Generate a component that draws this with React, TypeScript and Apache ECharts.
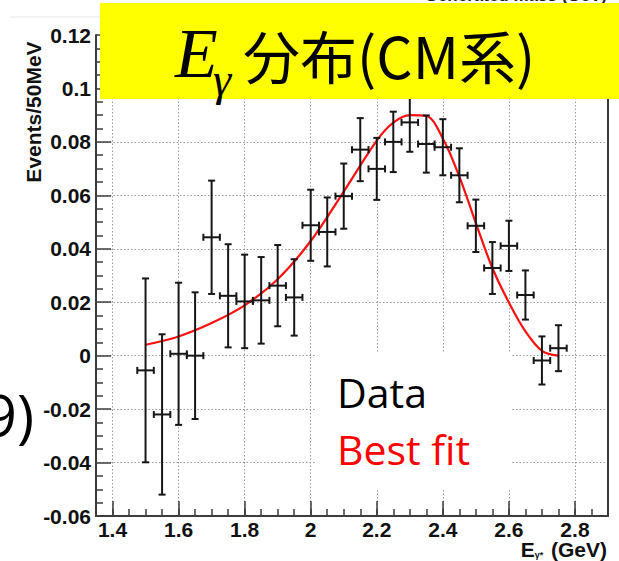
import React, { useEffect, useRef } from "react";
import * as echarts from "echarts";

// Measured photon energy spectrum in the CM frame (bin centres in GeV)
const binCenters = [1.5, 1.55, 1.6, 1.65, 1.7, 1.75, 1.8, 1.85, 1.9, 1.95, 2.0, 2.05, 2.1, 2.15, 2.2, 2.25, 2.3, 2.35, 2.4, 2.45, 2.5, 2.55, 2.6, 2.65, 2.7, 2.75];
const eventRates = [-0.0055, -0.022, 0.0007, 0.0, 0.0443, 0.0224, 0.0203, 0.0207, 0.0262, 0.0218, 0.0488, 0.0463, 0.0597, 0.0771, 0.0699, 0.08, 0.0873, 0.0792, 0.078, 0.0675, 0.0486, 0.0328, 0.0411, 0.0227, -0.0018, 0.0028];
const rateErrors = [0.0344, 0.03, 0.0266, 0.0237, 0.0212, 0.0193, 0.0175, 0.0162, 0.0152, 0.0143, 0.0133, 0.0129, 0.0122, 0.0118, 0.0116, 0.0113, 0.011, 0.0107, 0.0105, 0.0101, 0.0098, 0.0097, 0.0094, 0.0092, 0.009, 0.0086];
const HALF_BIN = 0.025;

// Best-fit curve
const fitX = [1.5, 1.6, 1.7, 1.8, 1.9, 2.0, 2.1, 2.2, 2.25, 2.3, 2.35, 2.4, 2.45, 2.5, 2.55, 2.6, 2.65, 2.7, 2.75];
const fitY = [0.0041, 0.0072, 0.0122, 0.0188, 0.0286, 0.0429, 0.0614, 0.0805, 0.0872, 0.09, 0.0897, 0.0813, 0.067, 0.0496, 0.0328, 0.0199, 0.0091, 0.0018, 0];

const xMajorTicks = [1.4, 1.6, 1.8, 2.0, 2.2, 2.4, 2.6, 2.8];
const X_MIN = 1.35;
const X_MAX = 2.9;
const Y_MIN = -0.06;
const Y_MAX = 0.12;

const AXIS_COLOR = "#3c3c3c";
const LABEL_FONT = "Liberation Sans";

export default function App() {
  const ref = useRef<HTMLDivElement>(null);

  useEffect(() => {
    if (!ref.current) return;
    const chart = echarts.init(ref.current, null, { renderer: "svg" });

    const points = binCenters.map((x, i) => [x, eventRates[i], rateErrors[i]]);
    const fitData = fitX.map((x, i) => [x, fitY[i]]);

    const gridLine = { show: true, lineStyle: { color: "#9a9a9a", width: 1, type: [1.5, 2] } };

    const option: any = {
      animation: false,
      backgroundColor: "#ffffff",
      grid: { left: 96, right: 11, top: 35, bottom: 45, containLabel: false },
      xAxis: [
        {
          type: "value",
          min: X_MIN,
          max: X_MAX,
          interval: 0.05,
          position: "bottom",
          axisLine: { show: true, onZero: false, lineStyle: { color: AXIS_COLOR, width: 2 } },
          axisTick: { show: true, inside: true, length: 7, lineStyle: { color: AXIS_COLOR, width: 1.5 } },
          axisLabel: { show: false },
          splitLine: { show: false },
        },
        {
          type: "value",
          min: X_MIN,
          max: X_MAX,
          position: "bottom",
          axisLine: { show: false, onZero: false },
          axisTick: { show: true, inside: true, length: 15, customValues: xMajorTicks, lineStyle: { color: AXIS_COLOR, width: 1.5 } },
          axisLabel: {
            show: true,
            customValues: xMajorTicks,
            margin: 3,
            fontFamily: LABEL_FONT,
            fontWeight: "bold",
            fontSize: 21,
            color: "#111",
            formatter: (v: number) => String(+v.toFixed(2)),
          },
          splitLine: gridLine,
        },
      ],
      yAxis: [
        {
          type: "value",
          min: Y_MIN,
          max: Y_MAX,
          interval: 0.02,
          axisLine: { show: true, onZero: false, lineStyle: { color: AXIS_COLOR, width: 2 } },
          axisTick: { show: true, inside: true, length: 15, lineStyle: { color: AXIS_COLOR, width: 1.5 } },
          minorTick: { show: true, splitNumber: 4, length: 7, lineStyle: { color: AXIS_COLOR, width: 1.5 } },
          axisLabel: {
            margin: 5,
            fontFamily: LABEL_FONT,
            fontWeight: "bold",
            fontSize: 21,
            color: "#111",
            formatter: (v: number) => String(+v.toFixed(2)),
          },
          splitLine: gridLine,
        },
        {
          type: "value",
          min: Y_MIN,
          max: Y_MAX,
          position: "right",
          axisLine: { show: true, onZero: false, lineStyle: { color: AXIS_COLOR, width: 2 } },
          axisTick: { show: false },
          axisLabel: { show: false },
          splitLine: { show: false },
        },
      ],
      series: [
        {
          type: "line",
          name: "Best fit",
          data: fitData,
          xAxisIndex: 0,
          yAxisIndex: 0,
          smooth: 0.35,
          symbol: "none",
          lineStyle: { color: "#ff1010", width: 2.2 },
          z: 3,
        },
        {
          type: "custom",
          name: "Data",
          xAxisIndex: 0,
          yAxisIndex: 0,
          data: points,
          z: 4,
          renderItem: (_params: any, api: any) => {
            const x = api.value(0);
            const y = api.value(1);
            const e = api.value(2);
            const top = api.coord([x, y + e]);
            const bot = api.coord([x, y - e]);
            const left = api.coord([x - HALF_BIN, y]);
            const right = api.coord([x + HALF_BIN, y]);
            const style = { stroke: "#161616", lineWidth: 2 };
            const cap = 3.5;
            const mk = (x1: number, y1: number, x2: number, y2: number) => ({
              type: "line",
              shape: { x1, y1, x2, y2 },
              style,
            });
            return {
              type: "group",
              children: [
                mk(top[0], top[1], bot[0], bot[1]),
                mk(left[0], left[1], right[0], right[1]),
                mk(top[0] - cap, top[1], top[0] + cap, top[1]),
                mk(bot[0] - cap, bot[1], bot[0] + cap, bot[1]),
                mk(left[0], left[1] - cap, left[0], left[1] + cap),
                mk(right[0], right[1] - cap, right[0], right[1] + cap),
              ],
            };
          },
        },
      ],
      graphic: [
        // faint frame line at the top left
        { type: "line", shape: { x1: 10, y1: 17, x2: 110, y2: 17 }, style: { stroke: "#e6e6e6", lineWidth: 1 }, z: 1 },
        // upper plot title peeking out above the banner
        {
          type: "text",
          x: 607,
          y: 4,
          z: 1,
          style: { text: "Generated mass (GeV)", align: "right", verticalAlign: "bottom", fontFamily: LABEL_FONT, fontWeight: "bold", fontSize: 17, fill: "#222" },
        },
        // y axis title
        {
          type: "text",
          x: 33,
          y: 112,
          rotation: Math.PI / 2,
          z: 10,
          style: { text: "Events/50MeV", align: "center", verticalAlign: "middle", fontFamily: LABEL_FONT, fontWeight: "bold", fontSize: 21, fill: "#111" },
        },
        // x axis title
        {
          type: "text",
          x: 607,
          y: 560,
          z: 10,
          style: {
            text: "{e|E}{g|γ*} (GeV)",
            align: "right",
            verticalAlign: "bottom",
            fontFamily: LABEL_FONT,
            fontWeight: "bold",
            fontSize: 21,
            fill: "#111",
            rich: {
              e: { fontFamily: LABEL_FONT, fontWeight: "bold", fontSize: 21, fill: "#111" },
              g: { fontFamily: LABEL_FONT, fontWeight: "bold", fontSize: 9, fill: "#111", padding: [10, 2, 0, 0] },
            },
          },
        },
        // legend panel
        { type: "rect", shape: { x: 316, y: 352, width: 195, height: 136 }, style: { fill: "#ffffff" }, z: 50 },
        {
          type: "text",
          x: 337,
          y: 392,
          z: 51,
          style: { text: "Data", align: "left", verticalAlign: "middle", fontFamily: "Open Sans", fontSize: 41, fill: "#000" },
        },
        {
          type: "text",
          x: 337,
          y: 449,
          z: 51,
          style: { text: "Best fit", align: "left", verticalAlign: "middle", fontFamily: "Open Sans", fontSize: 41, fill: "#ff0000" },
        },
        // slide text cut at the left edge
        {
          type: "text",
          x: 34,
          y: 414,
          z: 51,
          style: { text: "9)", align: "right", verticalAlign: "middle", fontFamily: "Open Sans", fontSize: 58, fill: "#000" },
        },
        // title banner
        { type: "rect", shape: { x: 100, y: 3, width: 519, height: 96 }, style: { fill: "#ffff00" }, z: 60 },
        {
          type: "text",
          x: 175,
          y: 53,
          z: 61,
          style: { text: "E", align: "left", verticalAlign: "middle", fontFamily: "Liberation Serif", fontStyle: "italic", fontSize: 70, fill: "#000" },
        },
        {
          type: "text",
          x: 213,
          y: 79,
          z: 61,
          style: { text: "γ", align: "left", verticalAlign: "middle", fontFamily: "Liberation Serif", fontStyle: "italic", fontSize: 46, fill: "#000" },
        },
        {
          type: "text",
          x: 243,
          y: 54,
          z: 61,
          style: { text: "分布(CM系)", align: "left", verticalAlign: "middle", fontFamily: "Noto Sans CJK JP", fontSize: 57, fill: "#000" },
        },
      ],
    };

    chart.setOption(option);
    return () => chart.dispose();
  }, []);

  return (
    <div
      ref={ref}
      style={{ position: "absolute", left: 0, top: 0, width: 619, height: 561, background: "#fff" }}
    />
  );
}
